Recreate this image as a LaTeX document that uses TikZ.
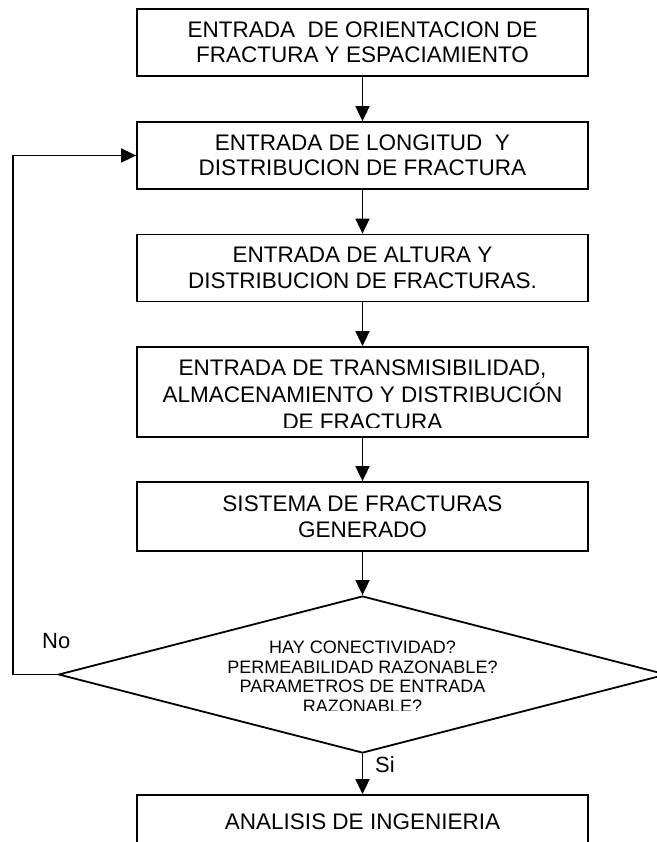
\documentclass[tikz,border=0pt]{standalone}
\usepackage{fontspec}
\setmainfont{Liberation Sans}
\usetikzlibrary{arrows.meta,shapes.geometric}
\newcommand\boxtext{\fontsize{22.5pt}{25.5pt}\selectfont}
\newcommand\boxtextb{\fontsize{22.5pt}{27pt}\selectfont}
\newcommand\diatext{\fontsize{18pt}{19.5pt}\selectfont}
\newcommand\lbltext{\fontsize{22pt}{26pt}\selectfont}
\tikzset{
  box/.style={draw, line width=1.8pt, minimum width=451pt, minimum height=67pt,
    inner sep=0pt, align=center, font=\boxtext},
  boxtxt/.style={inner sep=0pt, align=center, font=\boxtextb},
  diatxt/.style={inner sep=0pt, align=center, font=\diatext},
  conn/.style={line width=1.8pt, -{Triangle[length=15pt,width=14pt]}},
  lbl/.style={font=\lbltext, inner sep=0pt, anchor=base west},
}
\begin{document}
\begin{tikzpicture}[x=1pt,y=-1pt]
\useasboundingbox (0,0) rectangle (656,842);
\node[box] (b1) at (362.5,42.5) {ENTRADA\ \ DE ORIENTACION DE\\FRACTURA Y ESPACIAMIENTO};
\node[box] (b2) at (362.5,155.5) {ENTRADA DE LONGITUD\ \ Y\\DISTRIBUCION DE FRACTURA};
\node[box] (b3) at (362.5,268) {ENTRADA DE ALTURA Y\\DISTRIBUCION DE FRACTURAS.};
\node[box, minimum height=90pt] (b4) at (362.5,392) {};
\begin{scope}
  \clip (137,347) rectangle (588,427);
  \node[boxtxt] (t4) at (362.5,395) {ENTRADA DE TRANSMISIBILIDAD,\\ALMACENAMIENTO Y DISTRIBUCIÓN\\DE FRACTURA};
\end{scope}
\node[box, minimum height=69pt] (b5) at (362.5,516.5) {SISTEMA DE FRACTURAS\\GENERADO};
\node[diamond, draw, line width=1.8pt, aspect=3.87, minimum width=608pt,
  minimum height=157pt, inner sep=0pt] (dia) at (362.5,674.5) {};
\begin{scope}
  \clip (60,596) rectangle (656,710);
  \node[diatxt] (tdia) at (362.5,676.8) {HAY CONECTIVIDAD?\\PERMEABILIDAD RAZONABLE?\\PARAMETROS DE ENTRADA\\RAZONABLE?};
\end{scope}
\node[box, minimum height=54pt] (b6) at (362.5,822) {ANALISIS DE INGENIERIA};
\coordinate (fb) at (12.7,674.5);
\draw[conn] (b1.south) -- (b2.north);
\draw[conn] (b2.south) -- (b3.north);
\draw[conn] (b3.south) -- (b4.north);
\draw[conn] (b4.south) -- (b5.north);
\draw[conn] (b5.south) -- (dia.north);
\draw[conn] (dia.south) -- (b6.north);
\draw[conn] (dia.west) -- (fb) |- (b2.west);
\node[lbl] (no) at (42,648) {No};
\node[lbl] (si) at (375,772) {Si};
\end{tikzpicture}
\end{document}
